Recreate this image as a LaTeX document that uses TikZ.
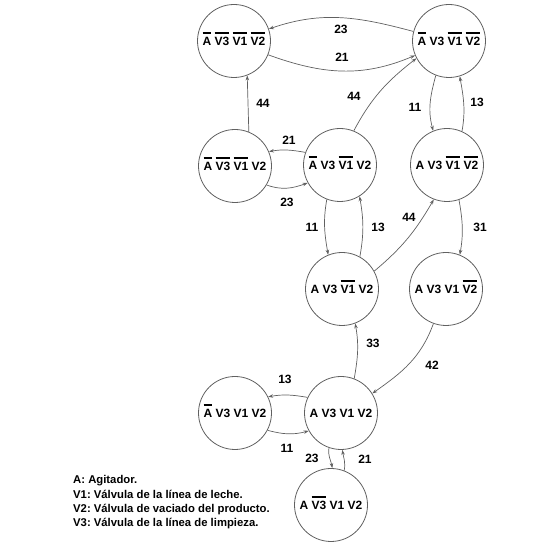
\documentclass[tikz,border=0pt]{standalone}
\usepackage{fontspec}
\setmainfont{Liberation Sans}
\usetikzlibrary{arrows.meta}
\frenchspacing
\newcommand\ovl[1]{\setbox0\hbox{#1}\rlap{\smash{\raisebox{\dimexpr\ht0+3.2pt\relax}{\rule{\wd0}{2pt}}}}\box0\relax}
\begin{document}
\begin{tikzpicture}[x=1pt,y=1pt,
 st/.style={circle,draw=gray!75!black,line width=0.8pt,minimum size=73pt,inner sep=0pt,font=\bfseries\fontsize{12}{14}\selectfont},
 ed/.style={draw=gray!75!black,line width=0.7pt,-{Stealth[length=5pt,width=3.5pt]}},
 lbl/.style={font=\bfseries\fontsize{12}{14}\selectfont,inner sep=0pt},
 leg/.style={font=\bfseries\fontsize{11.3}{13}\selectfont,inner sep=0pt,anchor=base west}]
\useasboundingbox (0,0) rectangle (550,548);
\node[st] (n1) at (234,507) {\ovl{A} \ovl{V3} \ovl{V1} \ovl{V2}};
\node[st] (n2) at (449,507) {\ovl{A} V3 \ovl{V1} \ovl{V2}};
\node[st] (n3) at (235,382) {\ovl{A} \ovl{V3} \ovl{V1} V2};
\node[st] (n4) at (340,383) {\ovl{A} V3 \ovl{V1} V2};
\node[st] (n5) at (447,383) {A V3 \ovl{V1} \ovl{V2}};
\node[st] (n6) at (342,259) {A V3 \ovl{V1} V2};
\node[st] (n7) at (446,259) {A V3 V1 \ovl{V2}};
\node[st] (n8) at (235,135) {\ovl{A} V3 V1 V2};
\node[st] (n9) at (341,135) {A V3 V1 V2};
\node[st] (n10) at (331,43) {A \ovl{V3} V1 V2};

\draw[ed] (n2.165) to[out=165,in=19] (n1.19);
\draw[ed] (n1.-22) to[out=-20,in=203] (n2.203);
\draw[ed] (n3.68) -- (n1.-69);
\draw[ed] (n4.68) to[out=62,in=218] (n2.208);
\draw[ed] (n2.249) to[out=255,in=105] (n5.112);
\draw[ed] (n5.66) to[out=80,in=-80] (n2.-73);
\draw[ed] (n4.160) to[out=170,in=10] (n3.23);
\draw[ed] (n3.-31) to[out=-20,in=200] (n4.209);
\draw[ed] (n4.249) to[out=260,in=100] (n6.112);
\draw[ed] (n6.61) to[out=80,in=-80] (n4.-58);
\draw[ed] (n6.29) to[out=40,in=240] (n5.249);
\draw[ed] (n5.-71) to[out=-80,in=80] (n7.68);
\draw[ed] (n9.69) to[out=80,in=-80] (n6.-69);
\draw[ed] (n7.250) to[out=250,in=35] (n9.32);
\draw[ed] (n9.155) to[out=170,in=10] (n8.26);
\draw[ed] (n8.-28) to[out=-15,in=195] (n9.209);
\draw[ed] (n9.251) to[out=260,in=100] (n10.88);
\draw[ed] (n10.69) to[out=80,in=-80] (n9.-88);

\node[lbl] (l1) at (341,519) {23};
\node[lbl] (l2) at (342,491) {21};
\node[lbl] (l3) at (263,445) {44};
\node[lbl] (l4) at (354,452) {44};
\node[lbl] (l5) at (415,441) {11};
\node[lbl] (l6) at (477,446) {13};
\node[lbl] (l7) at (289,408) {21};
\node[lbl] (l8) at (287,346) {23};
\node[lbl] (l9) at (312,321) {11};
\node[lbl] (l10) at (378,321) {13};
\node[lbl] (l11) at (409,331) {44};
\node[lbl] (l12) at (480,321) {31};
\node[lbl] (l13) at (373,205) {33};
\node[lbl] (l14) at (432,183) {42};
\node[lbl] (l15) at (285,169) {13};
\node[lbl] (l16) at (287,100) {11};
\node[lbl] (l17) at (312,90) {23};
\node[lbl] (l18) at (365,89) {21};

\node[leg] (g1) at (73,64.7) {A: Agitador.};
\node[leg] (g2) at (73,49.7) {V1: Válvula de la línea de leche.};
\node[leg] (g3) at (73,35.7) {V2: Válvula de vaciado del producto.};
\node[leg] (g4) at (73,21.3) {V3: Válvula de la línea de limpieza.};
\end{tikzpicture}
\end{document}
